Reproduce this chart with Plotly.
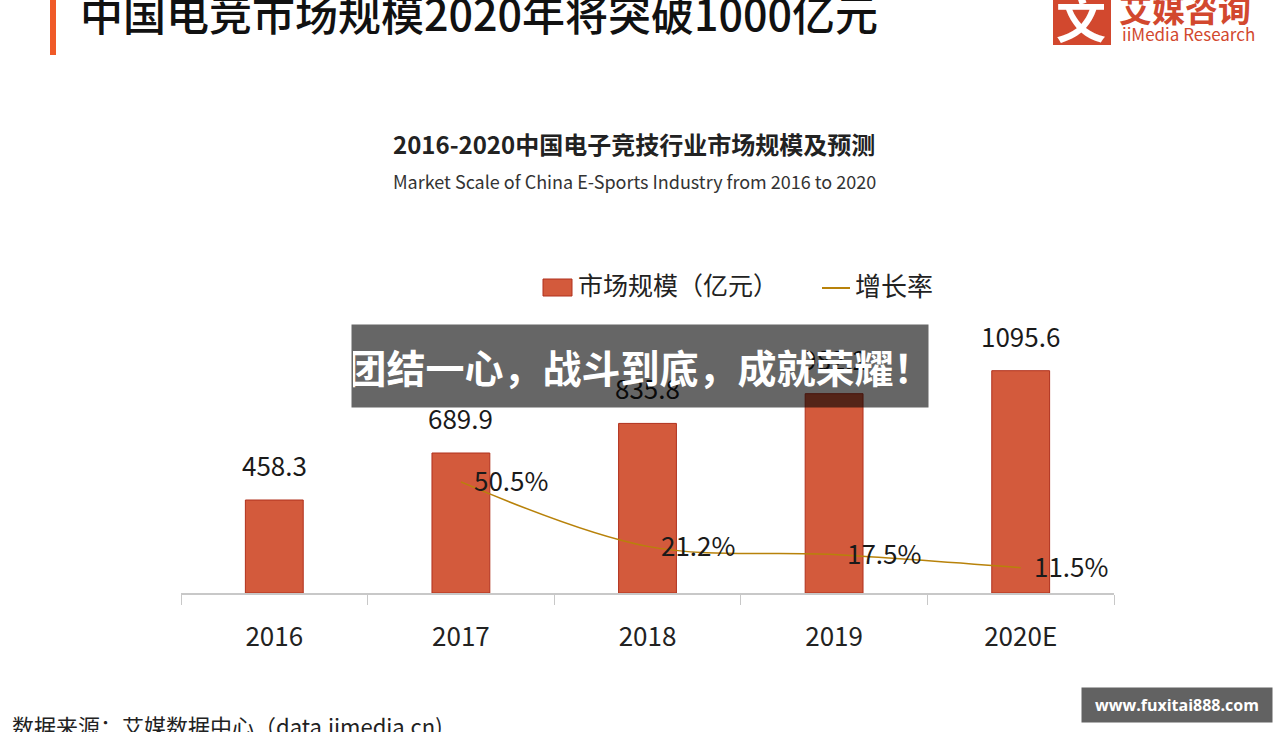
import plotly.graph_objects as go

years = ["2016", "2017", "2018", "2019", "2020E"]
market_scale = [458.3, 689.9, 835.8, 982.2, 1095.6]
growth_years = ["2017", "2018", "2019", "2020E"]
growth_rate = [50.5, 21.2, 17.5, 11.5]
growth_labels = ["50.5%", "21.2%", "17.5%", "11.5%"]

W, H = 1280, 732
L, R, T, B = 181, 1114, 300, 593
CJK = "Noto Sans CJK SC"

def px(x):
    return (x - L) / (R - L)

def py(y):
    return (B - y) / (B - T)

fig = go.Figure()
fig.add_trace(go.Bar(
    x=years, y=market_scale, name="市场规模（亿元）",
    marker=dict(color="#d35a3c", line=dict(color="#b0301c", width=1)),
    cliponaxis=False, showlegend=False,
))
fig.add_trace(go.Scatter(
    x=growth_years, y=growth_rate, name="增长率", yaxis="y2",
    mode="lines", line=dict(color="#b8820a", width=1.5, shape="spline"),
    cliponaxis=False, showlegend=False,
))

ann = []
# bar value labels (from data; category index positions)
for i, v in enumerate(market_scale):
    ann.append(dict(text=f"{v:.1f}", x=i, y=v, xref="x", yref="y", showarrow=False,
                    xanchor="center", yanchor="bottom", yshift=15,
                    font=dict(size=26, color="#1a1a1a", family=CJK)))
# growth labels (from data)
for g, v, t in zip(growth_years, growth_rate, growth_labels):
    ann.append(dict(text=t, x=years.index(g), y=v, xref="x", yref="y2", showarrow=False,
                    xanchor="left", yanchor="middle", xshift=11, yshift=2,
                    font=dict(size=26, color="#1a1a1a", family=CJK)))

def add_text(text, x, y, size, color="#000", bold=False, xanchor="center", yanchor="middle", family=CJK, weight=None):
    t = f"<b>{text}</b>" if bold else text
    f = dict(size=size, color=color, family=family)
    if weight:
        f["weight"] = weight
    ann.append(dict(text=t, x=px(x), y=py(y), xref="paper", yref="paper", showarrow=False,
                    xanchor=xanchor, yanchor=yanchor, font=f))

add_text("中国电竞市场规模2020年将突破1000亿元", 78, 12, 43, color="#111", xanchor="left", weight=500)
add_text("2016-2020中国电子竞技行业市场规模及预测", 634, 143, 24, color="#222", bold=True)
add_text("Market Scale of China E-Sports Industry from 2016 to 2020", 634, 181, 18, color="#333")
add_text("数据来源：艾媒数据中心（data.iimedia.cn)", 10, 725, 22, color="#222", xanchor="left")
add_text("艾媒咨询", 1117, 8, 33, color="#d2482e", bold=True, xanchor="left")
add_text("iiMedia Research", 1188, 33, 17, color="#d2482e", xanchor="center")
add_text("文", 1081, 16, 50, color="#ffffff", bold=True)

# custom legend
add_text("市场规模（亿元）", 576, 284, 25, color="#222", xanchor="left")
add_text("增长率", 853, 284, 26, color="#222", xanchor="left")

# overlay banner
ann.append(dict(text="<b>团结一心，战斗到底，成就荣耀！</b>", x=px(640), y=py(366), xref="paper", yref="paper",
                showarrow=False, xanchor="center", yanchor="middle", width=574, height=80,
                bgcolor="rgba(0,0,0,0.6)", font=dict(size=39, color="#ffffff", family=CJK)))
ann.append(dict(text="<b>www.fuxitai888.com</b>", x=px(1177), y=py(705), xref="paper", yref="paper",
                showarrow=False, xanchor="center", yanchor="middle", width=188, height=32,
                bgcolor="rgba(90,90,90,0.95)", font=dict(size=16, color="#ffffff", family="Open Sans")))

shapes = [
    dict(type="rect", xref="paper", yref="paper", x0=px(50), x1=px(56), y0=py(-2), y1=py(55),
         fillcolor="#f05a28", line=dict(width=0), layer="above"),
    dict(type="rect", xref="paper", yref="paper", x0=px(1053), x1=px(1111), y0=py(-8), y1=py(45),
         fillcolor="#d2482e", line=dict(width=0), layer="above"),
    dict(type="rect", xref="paper", yref="paper", x0=px(543), x1=px(572), y0=py(296), y1=py(279),
         fillcolor="#d35a3c", line=dict(color="#b0301c", width=1), layer="above"),
    dict(type="line", xref="paper", yref="paper", x0=px(822), x1=px(850), y0=py(288), y1=py(288),
         line=dict(color="#b8820a", width=2), layer="above"),
]

fig.update_layout(
    width=W, height=H,
    margin=dict(l=L, r=W - R, t=T, b=H - B, pad=0),
    paper_bgcolor="white", plot_bgcolor="white",
    font=dict(family=CJK, color="#222"),
    bargap=0.69,
    showlegend=False,
    xaxis=dict(type="category", categoryorder="array", categoryarray=years,
               range=[-0.5, len(years) - 0.5],
               showgrid=False, showline=True, linecolor="#c8c8c8", linewidth=1.5,
               ticks="outside", tickson="boundaries", ticklen=10, tickcolor="#c8c8c8",
               tickfont=dict(size=26, color="#222", family=CJK), ticklabelstandoff=20),
    yaxis=dict(range=[0, 1444], visible=False, showgrid=False, zeroline=False),
    yaxis2=dict(range=[0, 133.2], overlaying="y", visible=False, showgrid=False, zeroline=False),
    annotations=ann, shapes=shapes,
)

fig.write_html("out.html", config={"displayModeBar": False},
               post_script="document.body.style.margin='0';document.body.style.overflow='hidden';")
